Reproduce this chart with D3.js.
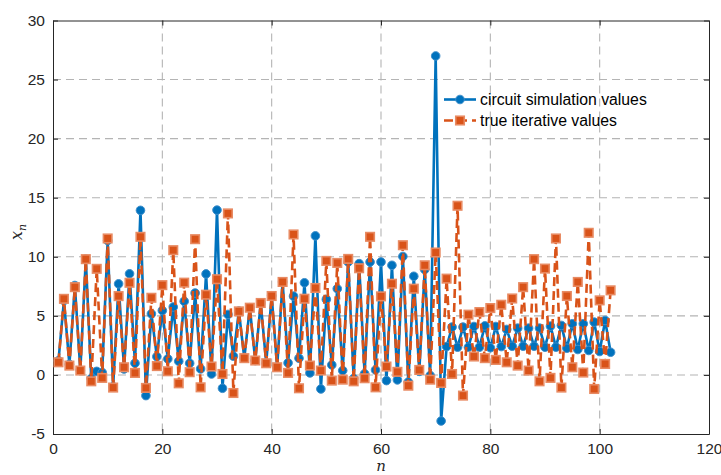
<!DOCTYPE html>
<html>
<head>
<meta charset="utf-8">
<script src="https://cdnjs.cloudflare.com/ajax/libs/d3/7.8.5/d3.min.js"></script>
<style>
  body { margin: 0; background: #fff; }
  text { font-family: "Liberation Sans", Arial, sans-serif; }
</style>
</head>
<body>
<svg width="721" height="475"></svg>
<script>
// circuit simulation values, n = 1..102
var circuit = [1.2, 6.3, 0.9, 7.57, 0.4, 9.8, -0.3, 0.3, 0.2, 11.38,
  -1.0, 7.71, 0.5, 8.56, 0.99, 13.93, -1.75, 5.17, 1.55, 5.45,
  1.36, 5.75, 1.16, 6.23, 0.99, 6.93, 0.51, 8.55, 0.08, 13.95,
  -1.13, 5.12, 1.59, 5.4, 1.42, 5.69, 1.22, 6.09, 0.99, 6.7,
  0.65, 7.87, 1.02, 6.67, 1.41, 7.8, 0.17, 11.77, -1.19, 6.4,
  0.85, 7.3, 0.37, 9.56, -0.3, 9.42, 0.1, 9.56, 0.42, 9.56,
  -0.48, 9.28, -0.42, 10.03, -0.6, 8.35, 0.3, 8.92, -0.05, 27.0,
  -3.9, 2.4, 4.05, 2.35, 4.05, 2.35, 4.1, 2.35, 4.15, 2.3,
  4.1, 2.4, 3.85, 2.43, 3.96, 2.43, 3.96, 2.43, 3.96, 2.35,
  4.13, 2.35, 4.19, 2.26, 4.33, 2.15, 4.33, 2.07, 4.47, 1.98,
  4.61, 1.92];

// true iterative values, n = 1..102
var trueVals = [1.07, 6.44, 0.79, 7.43, 0.37, 9.8, -0.54, 8.98, -0.25, 11.55,
  -1.07, 6.67, 0.65, 7.8, 0.17, 11.69, -1.1, 6.53, 0.75, 7.6,
  0.31, 10.56, -0.71, 7.81, 0.23, 11.49, -1.05, 6.79, 0.71, 8.1,
  0.08, 13.67, -1.53, 5.38, 1.42, 5.69, 1.22, 6.09, 0.99, 6.68,
  0.65, 7.87, 0.17, 11.89, -1.13, 6.45, 0.79, 7.36, 0.37, 9.65,
  -0.48, 9.48, -0.4, 9.82, -0.54, 9.03, -0.28, 11.69, -1.05, 6.65,
  0.71, 7.72, 0.26, 10.98, -0.91, 7.3, 0.42, 9.28, -0.4, 10.36,
  -0.68, 8.15, 0.08, 14.32, -1.75, 5.1, 1.56, 5.32, 1.42, 5.66,
  1.27, 5.94, 1.07, 6.47, 0.79, 7.43, 0.37, 9.8, -0.54, 9.0,
  -0.25, 11.55, -1.07, 6.68, 0.65, 7.87, 0.2, 12.03, -1.19, 6.31,
  0.93, 7.16];

var xTicks = [0, 20, 40, 60, 80, 100, 120];
var yTicks = [-5, 0, 5, 10, 15, 20, 25, 30];
var seriesNames = ["circuit simulation values", "true iterative values"];

var blue = "#0072BD", orange = "#D95319";

var svg = d3.select("svg");
var mLeft = 53, mRight = 709, mTop = 20.5, mBottom = 434;

var x = d3.scaleLinear().domain([0, 120]).range([mLeft, mRight]);
var y = d3.scaleLinear().domain([-5, 30]).range([mBottom, mTop]);

// dashed grid
var grid = svg.append("g")
  .attr("stroke", "#b4b4b4")
  .attr("stroke-width", 1.1)
  .attr("stroke-dasharray", "8,5");
grid.selectAll("line.v")
  .data(xTicks.slice(1, -1))
  .enter().append("line")
  .attr("x1", d => x(d)).attr("x2", d => x(d))
  .attr("y1", mTop).attr("y2", mBottom);
grid.selectAll("line.h")
  .data(yTicks.slice(1, -1))
  .enter().append("line")
  .attr("x1", mLeft).attr("x2", mRight)
  .attr("y1", d => y(d)).attr("y2", d => y(d));

// axes, ticks point inward like matlab, plain hyphen for minus
var axisColor = "#262626";
var fmt = d => String(d);
svg.append("g")
  .attr("transform", "translate(0," + mBottom + ")")
  .call(d3.axisBottom(x).tickValues(xTicks).tickFormat(fmt).tickSizeInner(-5).tickSizeOuter(0).tickPadding(9));
svg.append("g")
  .attr("transform", "translate(" + mLeft + ",0)")
  .call(d3.axisLeft(y).tickValues(yTicks).tickFormat(fmt).tickSizeInner(-5).tickSizeOuter(0).tickPadding(8));
svg.append("g")
  .attr("transform", "translate(0," + mTop + ")")
  .call(d3.axisTop(x).tickValues(xTicks).tickSizeInner(-5).tickSizeOuter(0).tickFormat(""));
svg.append("g")
  .attr("transform", "translate(" + mRight + ",0)")
  .call(d3.axisRight(y).tickValues(yTicks).tickSizeInner(-5).tickSizeOuter(0).tickFormat(""));

svg.selectAll(".domain, .tick line").attr("stroke", axisColor).attr("stroke-width", 1);
svg.selectAll(".tick text")
  .attr("fill", axisColor)
  .style("font-family", "'Liberation Sans', Arial, sans-serif")
  .style("font-size", "15.5px");

// series lines
var line = d3.line()
  .x((d, i) => x(i + 1))
  .y(d => y(d));

svg.append("path")
  .datum(circuit)
  .attr("d", line)
  .attr("fill", "none")
  .attr("stroke", blue)
  .attr("stroke-width", 2.6)
  .attr("stroke-linejoin", "round");

svg.selectAll("circle.pt")
  .data(circuit)
  .enter().append("circle")
  .attr("cx", (d, i) => x(i + 1))
  .attr("cy", d => y(d))
  .attr("r", 4.3)
  .attr("fill", blue)
  .attr("stroke", "#3f8fcb")
  .attr("stroke-width", 1);

svg.append("path")
  .datum(trueVals)
  .attr("d", line)
  .attr("fill", "none")
  .attr("stroke", orange)
  .attr("stroke-width", 2.6)
  .attr("stroke-dasharray", "9,5");

var sq = 8.5;
svg.selectAll("rect.pt")
  .data(trueVals)
  .enter().append("rect")
  .attr("x", (d, i) => x(i + 1) - sq / 2)
  .attr("y", d => y(d) - sq / 2)
  .attr("width", sq).attr("height", sq)
  .attr("fill", orange)
  .attr("stroke", "#e88a62")
  .attr("stroke-width", 1.6);

// legend, no box
var legend = svg.append("g");
var rows = [{ name: seriesNames[0], color: blue, dash: null, mark: "circle" },
            { name: seriesNames[1], color: orange, dash: "9,5", mark: "rect" }];
rows.forEach(function(r, i) {
  var ly = 99.5 + i * 21;
  legend.append("line")
    .attr("x1", 444).attr("x2", 476)
    .attr("y1", ly).attr("y2", ly)
    .attr("stroke", r.color).attr("stroke-width", 2.6)
    .attr("stroke-dasharray", r.dash);
  if (r.mark == "circle") {
    legend.append("circle").attr("cx", 460).attr("cy", ly).attr("r", 4.3)
      .attr("fill", blue).attr("stroke", "#3f8fcb");
  } else {
    legend.append("rect").attr("x", 460 - sq / 2).attr("y", ly - sq / 2)
      .attr("width", sq).attr("height", sq)
      .attr("fill", orange).attr("stroke", "#e88a62").attr("stroke-width", 1.6);
  }
  legend.append("text")
    .attr("x", 480).attr("y", ly)
    .attr("dy", "0.36em")
    .attr("fill", "#000")
    .style("font-size", "15.8px")
    .text(r.name);
});

// axis labels (latex style)
svg.append("text")
  .attr("x", 381).attr("y", 471)
  .attr("text-anchor", "middle")
  .style("font-family", "'DejaVu Serif', serif")
  .style("font-style", "italic")
  .style("font-size", "15px")
  .attr("fill", axisColor)
  .text("n");

var yl = svg.append("text")
  .attr("transform", "translate(22,232) rotate(-90)")
  .attr("text-anchor", "middle")
  .style("font-family", "'DejaVu Serif', serif")
  .style("font-style", "italic")
  .style("font-size", "16px")
  .attr("fill", axisColor);
yl.append("tspan").text("x");
yl.append("tspan").attr("dy", 4).style("font-size", "11px").text("n");
</script>
</body>
</html>
